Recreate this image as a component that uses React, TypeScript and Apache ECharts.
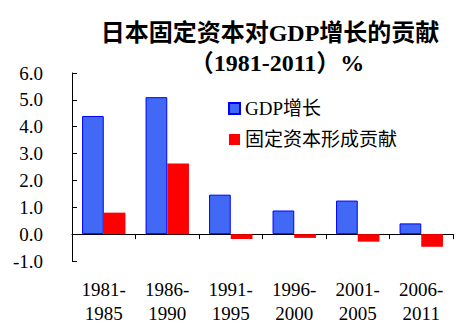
import React, { useEffect, useRef } from "react";
import * as echarts from "echarts";

const categories = ["1981-\n1985", "1986-\n1990", "1991-\n1995", "1996-\n2000", "2001-\n2005", "2006-\n2011"];
const gdpGrowth = [4.4, 5.1, 1.47, 0.88, 1.25, 0.4];
const capitalContribution = [0.8, 2.63, -0.18, -0.14, -0.28, -0.47];
const seriesNames = ["GDP增长", "固定资本形成贡献"];
const titleLines = ["日本固定资本对GDP增长的贡献", "（1981-2011）%"];

const FONT = '"Liberation Serif", "Noto Sans CJK SC", serif';

export default function App() {
  const ref = useRef<HTMLDivElement>(null);
  useEffect(() => {
    if (!ref.current) return;
    const chart = echarts.init(ref.current, null, { renderer: "svg" });
    chart.setOption({
      animation: false,
      backgroundColor: "#ffffff",
      textStyle: { fontFamily: FONT },
      graphic: [
        {
          type: "text",
          x: 270,
          y: 33,
          style: {
            text: titleLines[0],
            font: `bold 24px ${FONT}`,
            fill: "#000",
            textAlign: "center",
            textVerticalAlign: "middle",
          },
        },
        {
          type: "text",
          x: 277,
          y: 63,
          style: {
            text: titleLines[1],
            font: `bold 24px ${FONT}`,
            fill: "#000",
            textAlign: "center",
            textVerticalAlign: "middle",
          },
        },
      ],
      legend: {
        orient: "vertical",
        left: 228,
        top: 99,
        padding: 0,
        itemWidth: 11,
        itemHeight: 11,
        itemGap: 12,
        icon: "rect",
        textStyle: { fontSize: 19, color: "#000", fontFamily: FONT },
        data: seriesNames,
      },
      grid: { left: 72, right: 18, top: 73, bottom: 74, containLabel: false },
      xAxis: [
        {
          type: "category",
          data: categories,
          axisLine: { show: true, onZero: true, lineStyle: { color: "#000", width: 1 } },
          axisTick: { show: true, length: 5, lineStyle: { color: "#000" } },
          axisLabel: { show: false },
          splitLine: { show: false },
        },
        {
          type: "category",
          data: categories,
          position: "bottom",
          axisLine: { show: false, onZero: false },
          axisTick: { show: false },
          axisLabel: {
            show: true,
            margin: 16,
            fontSize: 19,
            lineHeight: 24,
            color: "#000",
            fontFamily: FONT,
          },
          splitLine: { show: false },
        },
      ],
      yAxis: {
        type: "value",
        min: -1,
        max: 6,
        interval: 1,
        axisLine: { show: true, lineStyle: { color: "#000", width: 1 } },
        axisTick: { show: true, inside: true, length: 5, lineStyle: { color: "#000" } },
        axisLabel: {
          margin: 29,
          fontSize: 19,
          color: "#000",
          fontFamily: FONT,
          formatter: (v: number) => v.toFixed(1),
        },
        splitLine: { show: false },
      },
      series: [
        {
          name: seriesNames[0],
          type: "bar",
          xAxisIndex: 0,
          data: gdpGrowth,
          barWidth: 21.7,
          barGap: "0%",
          itemStyle: { color: "#4169F5", borderColor: "#0000FF", borderWidth: 1 },
        },
        {
          name: seriesNames[1],
          type: "bar",
          xAxisIndex: 0,
          data: capitalContribution,
          barWidth: 21.7,
          barGap: "0%",
          itemStyle: { color: "#FF0000" },
        },
      ],
    });
    return () => chart.dispose();
  }, []);
  return <div ref={ref} style={{ width: 471, height: 335, margin: -8 }} />;
}
